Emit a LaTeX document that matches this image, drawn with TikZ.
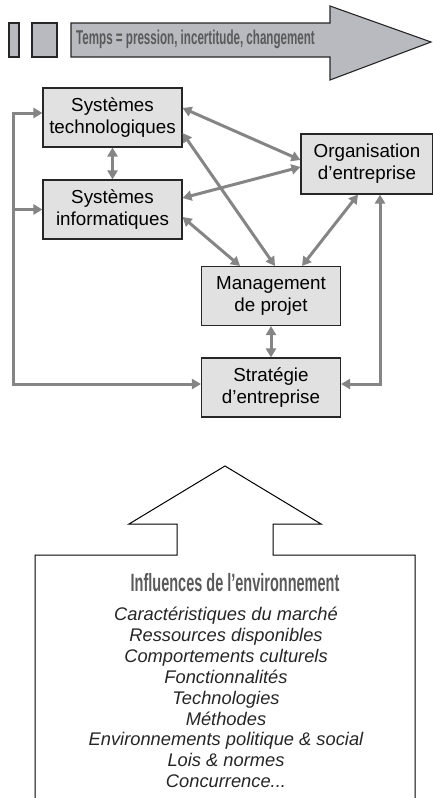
\documentclass[tikz,border=0pt]{standalone}
\usepackage{fontspec}
\setmainfont{Liberation Sans}
\newfontfamily\condbold[FakeStretch=0.58]{Liberation Sans Bold}
\usetikzlibrary{arrows.meta}

\definecolor{boxgray}{HTML}{E1E1E1}
\definecolor{arrowgray}{HTML}{B9BAC0}
\definecolor{linkgray}{HTML}{858585}
\definecolor{titlegray}{HTML}{5A5A5A}

\tikzset{
  bloc/.style={draw=black!85, line width=1.1pt, fill=boxgray, align=center,
    inner sep=0pt, minimum width=139pt, minimum height=59pt,
    font=\fontsize{18.8}{22}\selectfont},
  lien/.style={draw=linkgray, line width=3pt, <->},
  plaque/.style={draw=black!85, line width=1.1pt, fill=arrowgray},
}

\begin{document}
\begin{tikzpicture}[x=1pt, y=-1pt, >={Triangle[length=9pt, width=10pt]}]
        \useasboundingbox (0,0) rectangle (433,798);

        % bandeau du temps
        \draw[plaque] (9,23) rectangle (19,57);
        \draw[plaque] (32,23) rectangle (57,57);
        \draw[plaque] (71,23) -- (330,23) -- (330,6) -- (431,42) -- (330,80) -- (330,57) -- (71,57) -- cycle;
        \node[anchor=base west, inner sep=0pt, text=titlegray, font=\condbold\fontsize{20}{22}\selectfont] (temps) at (76,44) {Temps = pression, incertitude, changement};

        % les blocs
        \node[bloc] (tech) at (112.5,117.5) {Systèmes\\technologiques};
        \node[bloc] (info) at (112.5,209.5) {Systèmes\\informatiques};
        \node[bloc, minimum width=132pt, minimum height=60pt] (orga) at (367,164) {Organisation\\d’entreprise};
        \node[bloc] (mgmt) at (271,296) {Management\\de projet};
        \node[bloc] (strat) at (271,387.5) {Stratégie\\d’entreprise};

        % liens
        \coordinate (bus) at (13,250);
        \draw[lien] ([yshift=4.5pt]tech.west) -| (bus) |- ([yshift=3.5pt]strat.west);
        \draw[lien, -{>}] (bus |- info.west) -- (info.west);
        \draw[lien] ([xshift=13pt]orga.south) |- ([yshift=3.5pt]strat.east);
        \draw[lien] (tech.south) -- (info.north);
        \draw[lien] ([yshift=9.5pt]tech.east) -- ([yshift=4pt]orga.west);
        \draw[lien] ([yshift=11.5pt]info.east) -- ([yshift=-3pt]orga.west);
        \draw[lien] ([yshift=-15.5pt]tech.east) -- ([xshift=4pt]mgmt.north);
        \draw[lien] ([yshift=-7.5pt]info.east) -- ([xshift=-31pt]mgmt.north);
        \draw[lien] ([xshift=-9pt]orga.south) -- ([xshift=31pt]mgmt.north);
        \draw[lien] (mgmt.south) -- (strat.north);

        % influences de l'environnement
        \draw[line width=1pt, fill=white] (35,800) -- (35,555) -- (177,555) -- (177,524) -- (129,524) -- (225,466) -- (321,524) -- (273,524) -- (273,555) -- (415,555) -- (415,800);
        \node[text=titlegray, font=\condbold\fontsize{25}{27}\selectfont] (env) at (235,583) {Influences de l’environnement};
        \node[align=center, text=black!85, font=\itshape\fontsize{18.3}{20.9}\selectfont] (liste) at (226,697.5) {Caractéristiques du marché\\Ressources disponibles\\Comportements culturels\\Fonctionnalités\\Technologies\\Méthodes\\Environnements politique \& social\\Lois \& normes\\Concurrence...};
    \end{tikzpicture}
\end{document}
